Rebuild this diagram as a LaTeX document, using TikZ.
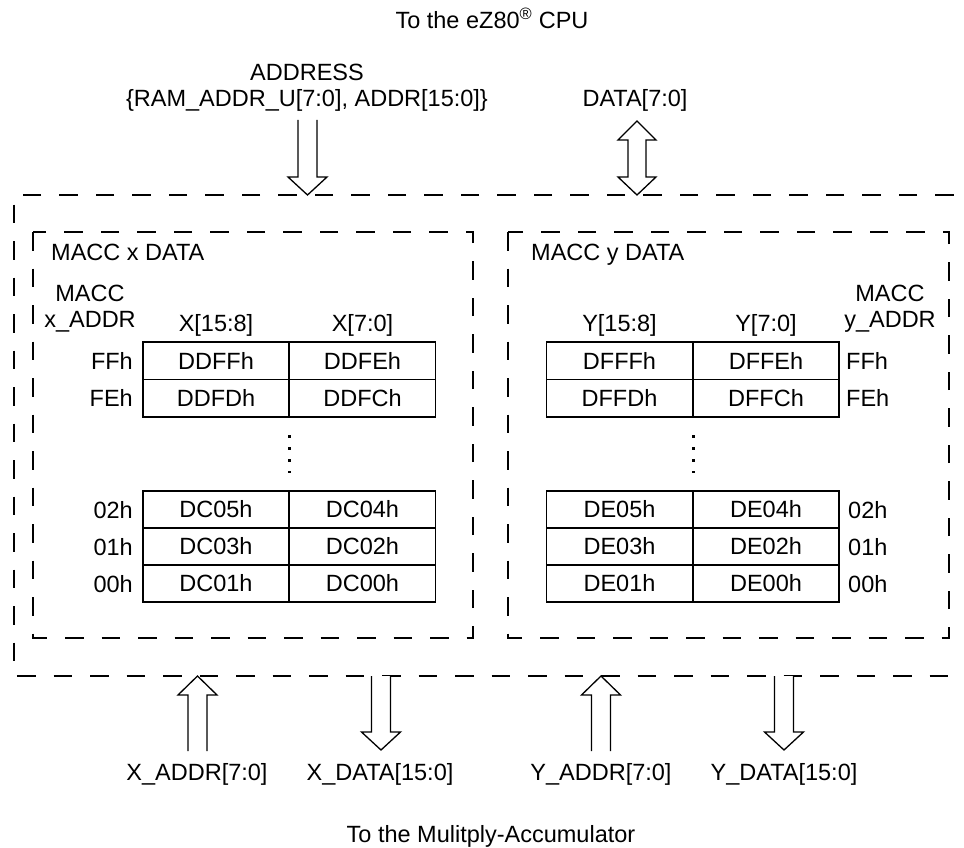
\documentclass[tikz,border=0pt]{standalone}
\usepackage{fontspec}
\setmainfont{Liberation Sans}
\usetikzlibrary{calc}
\newcommand{\busdown}[2]{
	\draw[bus] ($(#1)+(-9.5,0)$) -- ($(#2)+(-9.5,-18)$) -- ($(#2)+(-19.5,-18)$) -- (#2) -- ($(#2)+(19.5,-18)$) -- ($(#2)+(9.5,-18)$) -- ($(#1)+(9.5,0)$);
}
\newcommand{\busup}[2]{
	\draw[bus] ($(#2)+(-9.5,0)$) -- ($(#1)+(-9.5,19)$) -- ($(#1)+(-19.5,19)$) -- (#1) -- ($(#1)+(19.5,19)$) -- ($(#1)+(9.5,19)$) -- ($(#2)+(9.5,0)$);
}
\newcommand{\busboth}[2]{
	\draw[bus] (#1) -- ($(#1)+(19,19)$) -- ($(#1)+(9,19)$) -- ($(#2)+(9,-18)$) -- ($(#2)+(19,-18)$) -- (#2) -- ($(#2)+(-19,-18)$) -- ($(#2)+(-9,-18)$) -- ($(#1)+(-9,19)$) -- ($(#1)+(-19,19)$) -- cycle;
}

\begin{document}
\begin{tikzpicture}[x=1pt,y=-1pt,font=\fontsize{23.5}{26}\selectfont,
	bus/.style={line width=1.3pt,fill=white},
	frame/.style={line width=2pt,dash pattern=on 18.5pt off 18pt},
	cell/.style={draw,line width=1.8pt,minimum width=146pt,minimum height=37.5pt,inner sep=0pt},
	txt/.style={inner sep=0pt,anchor=base},
	dots/.style={line width=3pt,dash pattern=on 3pt off 9pt}]
	\useasboundingbox (0,0) rectangle (964,848);

	\node[txt] (cpu) at (492,28.5) {To the eZ80\textsuperscript{®} CPU};
	\node[txt,align=center] (addr) at (307,107) {ADDRESS\\\{RAM\_ADDR\_U[7:0], ADDR[15:0]\}};
	\node[txt] (data) at (635,107) {DATA[7:0]};
	\coordinate (addrtop) at (307.5,120);
	\coordinate (addrtip) at (307.5,195);
	\coordinate (datatop) at (637,121);
	\coordinate (databot) at (637,195);

	\draw[frame] (990,195) -- (14,195) -- (14,676) -- (990,676);
	\draw[frame] (33,232) rectangle (473,638);
	\draw[frame] (508,232) rectangle (949,638);

	\busdown{addrtop}{addrtip}
	\busboth{datatop}{databot}

	\node[txt,anchor=base west] (xname) at (51,260) {MACC x DATA};
	\node[txt,anchor=base west] (yname) at (531,260) {MACC y DATA};
	\node[txt,align=center] (xaddr) at (90,327) {MACC\\x\_ADDR};
	\node[txt,align=center] (yaddr) at (890,327) {MACC\\y\_ADDR};
	\node[txt] (xhi) at (216,331.5) {X[15:8]};
	\node[txt] (xlo) at (362.5,331.5) {X[7:0]};
	\node[txt] (yhi) at (619.5,331.5) {Y[15:8]};
	\node[txt] (ylo) at (766,331.5) {Y[7:0]};

	\node[cell] (xa1) at (216,360.75) {DDFFh};
	\node[cell] (xb1) at (362.5,360.75) {DDFEh};
	\node[cell] (xa2) at (216,398.25) {DDFDh};
	\node[cell] (xb2) at (362.5,398.25) {DDFCh};
	\node[cell] (xa3) at (216,509.5) {DC05h};
	\node[cell] (xb3) at (362.5,509.5) {DC04h};
	\node[cell] (xa4) at (216,546.5) {DC03h};
	\node[cell] (xb4) at (362.5,546.5) {DC02h};
	\node[cell] (xa5) at (216,583.5) {DC01h};
	\node[cell] (xb5) at (362.5,583.5) {DC00h};

	\node[cell] (ya1) at (619.5,360.75) {DFFFh};
	\node[cell] (yb1) at (766,360.75) {DFFEh};
	\node[cell] (ya2) at (619.5,398.25) {DFFDh};
	\node[cell] (yb2) at (766,398.25) {DFFCh};
	\node[cell] (ya3) at (619.5,509.5) {DE05h};
	\node[cell] (yb3) at (766,509.5) {DE04h};
	\node[cell] (ya4) at (619.5,546.5) {DE03h};
	\node[cell] (yb4) at (766,546.5) {DE02h};
	\node[cell] (ya5) at (619.5,583.5) {DE01h};
	\node[cell] (yb5) at (766,583.5) {DE00h};

	\node[txt,anchor=base east] (xff) at (133,369.3) {FFh};
	\node[txt,anchor=base east] (xfe) at (133,406.8) {FEh};
	\node[txt,anchor=base east] (x02) at (133,518) {02h};
	\node[txt,anchor=base east] (x01) at (133,555) {01h};
	\node[txt,anchor=base east] (x00) at (133,592) {00h};
	\node[txt,anchor=base west] (yff) at (846,369.3) {FFh};
	\node[txt,anchor=base west] (yfe) at (846,406.8) {FEh};
	\node[txt,anchor=base west] (y02) at (848,518) {02h};
	\node[txt,anchor=base west] (y01) at (848,555) {01h};
	\node[txt,anchor=base west] (y00) at (848,592) {00h};

	\draw[dots] ($(xa2.south east)+(0,17.5)$) -- ($(xa3.north east)+(0,-17)$);
	\draw[dots] ($(ya2.south east)+(0,17.5)$) -- ($(ya3.north east)+(0,-17)$);

	\coordinate (xaddrtip) at (197.5,676);
	\coordinate (xaddrend) at (197.5,751);
	\coordinate (xdatatop) at (381,676);
	\coordinate (xdatatip) at (381,750);
	\coordinate (yaddrtip) at (601,676);
	\coordinate (yaddrend) at (601,751);
	\coordinate (ydatatop) at (784,676);
	\coordinate (ydatatip) at (784,750);
	\busup{xaddrtip}{xaddrend}
	\busdown{xdatatop}{xdatatip}
	\busup{yaddrtip}{yaddrend}
	\busdown{ydatatop}{ydatatip}

	\node[txt] (xaddrbus) at (197,780) {X\_ADDR[7:0]};
	\node[txt] (xdatabus) at (380,780) {X\_DATA[15:0]};
	\node[txt] (yaddrbus) at (601,780) {Y\_ADDR[7:0]};
	\node[txt] (ydatabus) at (784,780) {Y\_DATA[15:0]};
	\node[txt] (mac) at (491,842) {To the Mulitply-Accumulator};
\end{tikzpicture}
\end{document}
